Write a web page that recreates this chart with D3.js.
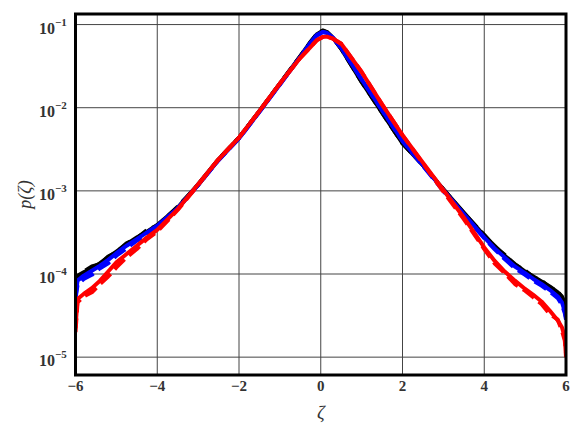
<!DOCTYPE html>
<html>
<head>
<meta charset="utf-8">
<script src="https://cdn.jsdelivr.net/npm/d3@7"></script>
<style>
  body { margin: 0; background: #fff; }
  svg { display: block; }
</style>
</head>
<body>
<div id="chart"></div>
<script>
// zeta grid shared by every curve
var zeta = [-6, -5.95, -5.8, -5.6, -5.4, -5.2, -5, -4.75, -4.5, -4.25, -4, -3.5, -3, -2.5, -2, -1.5, -1, -0.5, -0.25, -0.1,
    0.05, 0.15, 0.3, 0.5, 1, 1.5, 2, 2.5, 3, 3.5, 4, 4.25, 4.5, 4.75, 5, 5.2, 5.4, 5.6, 5.8, 5.9, 5.97, 6];

// log10 p(zeta)
var blackSolid = [-4.12, -4.02, -3.98, -3.93, -3.87, -3.80, -3.73, -3.64, -3.56, -3.49, -3.41, -3.20, -2.92, -2.62, -2.36, -2.04, -1.71, -1.38, -1.21, -1.12,
    -1.075, -1.09, -1.16, -1.29, -1.69, -2.06, -2.43, -2.69, -2.98, -3.26, -3.54, -3.66, -3.78, -3.88, -3.97, -4.03, -4.09, -4.15, -4.22, -4.27, -4.35, -4.42];
var blackDashed = [-4.15, -4.04, -3.97, -3.91, -3.88, -3.79, -3.74, -3.63, -3.57, -3.47, -3.42, -3.19, -2.93, -2.62, -2.36, -2.04, -1.71, -1.38, -1.21, -1.115,
    -1.07, -1.09, -1.16, -1.29, -1.69, -2.06, -2.43, -2.69, -2.98, -3.27, -3.53, -3.67, -3.77, -3.89, -3.96, -4.04, -4.08, -4.16, -4.21, -4.28, -4.37, -4.45];
var blueSolid = [-4.28, -4.08, -4.02, -3.96, -3.90, -3.83, -3.75, -3.66, -3.58, -3.50, -3.42, -3.21, -2.93, -2.63, -2.37, -2.05, -1.72, -1.39, -1.22, -1.13,
    -1.09, -1.10, -1.16, -1.28, -1.66, -2.03, -2.40, -2.69, -2.99, -3.28, -3.56, -3.69, -3.80, -3.91, -3.99, -4.06, -4.12, -4.19, -4.27, -4.34, -4.45, -4.52];
var blueDashed = [-4.30, -4.13, -4.06, -4.01, -3.93, -3.87, -3.78, -3.69, -3.60, -3.52, -3.43, -3.21, -2.93, -2.63, -2.37, -2.05, -1.72, -1.39, -1.22, -1.13,
    -1.09, -1.10, -1.16, -1.28, -1.66, -2.03, -2.40, -2.70, -3.00, -3.29, -3.57, -3.70, -3.82, -3.93, -4.01, -4.08, -4.14, -4.21, -4.29, -4.37, -4.47, -4.55];
var redSolid = [-4.65, -4.30, -4.24, -4.17, -4.08, -3.97, -3.86, -3.76, -3.66, -3.56, -3.47, -3.22, -2.92, -2.62, -2.36, -2.04, -1.71, -1.40, -1.27, -1.19,
    -1.15, -1.145, -1.17, -1.23, -1.57, -1.96, -2.33, -2.66, -2.99, -3.32, -3.68, -3.84, -3.97, -4.08, -4.18, -4.25, -4.33, -4.44, -4.56, -4.64, -4.76, -5.0];
var redDashed = [-4.70, -4.34, -4.27, -4.22, -4.12, -4.03, -3.92, -3.80, -3.70, -3.58, -3.49, -3.23, -2.93, -2.62, -2.36, -2.04, -1.71, -1.40, -1.27, -1.19,
    -1.15, -1.145, -1.17, -1.23, -1.57, -1.96, -2.33, -2.67, -3.01, -3.34, -3.70, -3.87, -3.99, -4.12, -4.20, -4.28, -4.36, -4.48, -4.55, -4.68, -4.80, -4.95];

var xTicks = [-6, -4, -2, 0, 2, 4, 6];
var yTickExps = [-1, -2, -3, -4, -5];

var series = [
    { values: blackSolid, color: '#000', dash: null },
    { values: blackDashed, color: '#000', dash: '14,6' },
    { values: blueSolid, color: '#0000ff', dash: null },
    { values: blueDashed, color: '#0000ff', dash: '14,6' },
    { values: redSolid, color: '#ff0000', dash: null },
    { values: redDashed, color: '#ff0000', dash: '14,6' }
];

var width = 580,
    height = 435,
    margin = { left: 75.5, top: 14, right: 14, bottom: 60 };

var svg = d3.select('#chart')
    .append('svg')
    .attr('width', width)
    .attr('height', height);

var x = d3.scaleLinear()
    .domain([-6, 6])
    .range([margin.left, width - margin.right]);

var y = d3.scaleLog()
    .domain([6.1e-6, 0.134])
    .range([height - margin.bottom, margin.top]);

svg.append('clipPath')
    .attr('id', 'plot-clip')
    .append('rect')
    .attr('x', margin.left)
    .attr('y', margin.top)
    .attr('width', width - margin.left - margin.right)
    .attr('height', height - margin.top - margin.bottom);

// grid
var grid = svg.append('g').attr('stroke', '#444').attr('stroke-width', 1);
grid.selectAll('line.vx')
    .data(xTicks)
    .enter()
    .append('line')
    .attr('x1', function(d) { return x(d); })
    .attr('x2', function(d) { return x(d); })
    .attr('y1', margin.top)
    .attr('y2', height - margin.bottom);
grid.selectAll('line.hy')
    .data(yTickExps)
    .enter()
    .append('line')
    .attr('x1', margin.left)
    .attr('x2', width - margin.right)
    .attr('y1', function(d) { return y(Math.pow(10, d)); })
    .attr('y2', function(d) { return y(Math.pow(10, d)); });

// curves
var line = d3.line()
    .x(function(d) { return x(d[0]); })
    .y(function(d) { return y(Math.pow(10, d[1])); });

svg.append('g')
    .attr('clip-path', 'url(#plot-clip)')
    .selectAll('path')
    .data(series)
    .enter()
    .append('path')
    .attr('d', function(s) { return line(d3.zip(zeta, s.values)); })
    .attr('fill', 'none')
    .attr('stroke', function(s) { return s.color; })
    .attr('stroke-width', 4)
    .attr('stroke-linejoin', 'round')
    .attr('stroke-dasharray', function(s) { return s.dash; });

// frame
svg.append('rect')
    .attr('x', margin.left)
    .attr('y', margin.top)
    .attr('width', width - margin.left - margin.right)
    .attr('height', height - margin.top - margin.bottom)
    .attr('fill', 'none')
    .attr('stroke', '#000')
    .attr('stroke-width', 3);

var serif = '"Liberation Serif", "DejaVu Serif", serif';

// x tick labels
svg.append('g')
    .selectAll('text')
    .data(xTicks)
    .enter()
    .append('text')
    .attr('x', function(d) { return x(d); })
    .attr('y', height - margin.bottom + 16)
    .attr('text-anchor', 'middle')
    .style('font', 'bold 15px ' + serif)
    .attr('fill', '#333')
    .text(function(d) { return d < 0 ? '\u2212' + Math.abs(d) : d; });

// y tick labels
var yLabels = svg.append('g')
    .selectAll('text')
    .data(yTickExps)
    .enter()
    .append('text')
    .attr('x', 39)
    .attr('y', function(d) { return y(Math.pow(10, d)) + 9; })
    .style('font', 'bold 16px ' + serif)
    .attr('fill', '#333');
yLabels.append('tspan').text('10');
yLabels.append('tspan')
    .attr('dy', -8)
    .style('font-size', '11px')
    .text(function(d) { return '\u2212' + Math.abs(d); });

// axis titles
svg.append('text')
    .attr('x', x(0))
    .attr('y', 419)
    .attr('text-anchor', 'middle')
    .style('font', 'italic 19px ' + serif)
    .attr('fill', '#333')
    .text('\u03b6');

svg.append('text')
    .attr('transform', 'translate(31,' + ((margin.top + height - margin.bottom) / 2) + ') rotate(-90)')
    .attr('text-anchor', 'middle')
    .style('font', 'italic 18px ' + serif)
    .attr('fill', '#333')
    .text('p(\u03b6)');
</script>
</body>
</html>
